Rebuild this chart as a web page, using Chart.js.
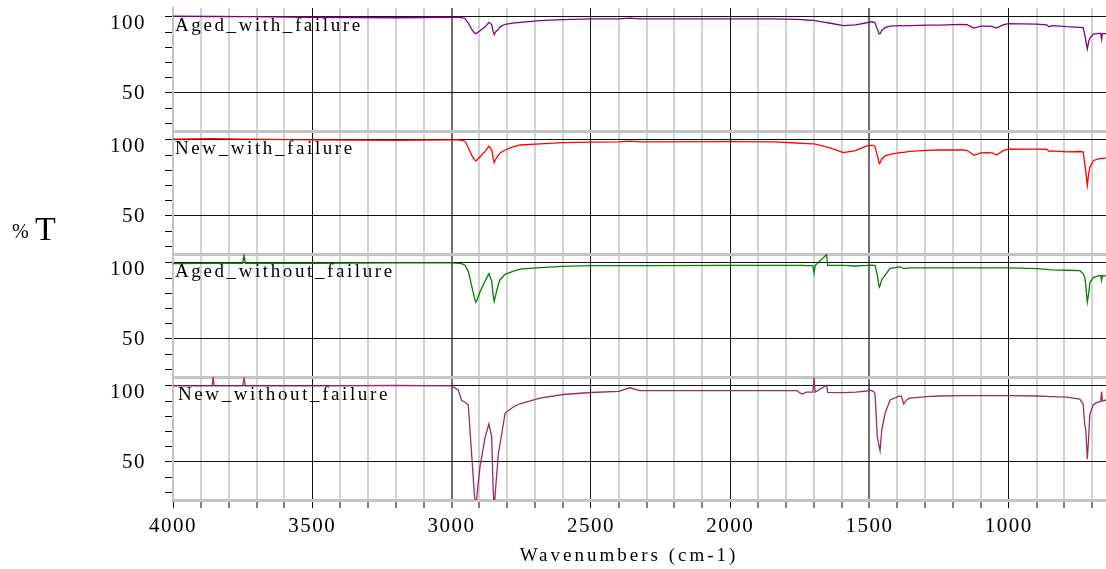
<!DOCTYPE html>
<html>
<head>
<meta charset="utf-8">
<script src="https://cdn.jsdelivr.net/npm/chart.js@4.4.1/dist/chart.umd.min.js"></script>
<style>
  html, body { margin: 0; padding: 0; background: #fff; }
  canvas { display: block; }
</style>
</head>
<body>
<canvas id="ftir" width="1106" height="569"></canvas>
<script>
// wavenumbers (cm-1) shared by the four spectra
const wavenumbers = [4000, 3860, 3856, 3852, 3750, 3745, 3740, 3500, 3200, 3000, 2976, 2964, 2952, 2940, 2928,
  2918, 2913, 2908, 2898, 2880, 2866, 2856, 2851, 2847, 2843, 2832, 2826, 2808, 2780, 2754, 2683, 2600, 2500,
  2400, 2360, 2324, 2000, 1845, 1761, 1743, 1726, 1703, 1699, 1695, 1654, 1650, 1594, 1550, 1510, 1498, 1486,
  1480, 1472, 1465, 1462, 1456, 1444, 1426, 1391, 1385, 1377, 1366, 1355, 1295, 1247, 1175, 1150, 1125, 1100,
  1079, 1060, 1044, 1020, 1002, 900, 864, 855, 845, 792, 745, 733, 727, 724, 718, 713, 709, 697, 685, 673,
  670, 667, 664, 651];

// %T
const agedWithFailure = [100.5, 100.3, 100.3, 100.3, 100.2, 100.2, 100.2, 99.8, 99.5, 99.8, 99.8, 99.5, 99, 96, 92,
  89.5, 89, 89.6, 91, 93.5, 96.5, 95, 90.5, 88.4, 90, 92, 93.5, 95.2, 96, 96.5, 97.6, 98.3, 98.7,
  98.8, 99.2, 98.8, 98.8, 98.7, 98.4, 98.2, 98, 97.8, 97.8, 97.6, 96.3, 96.2, 94.3, 94.8, 96.2, 96.7, 96.7,
  96, 92, 88.8, 89, 91, 93, 94, 94.3, 94.3, 94.1, 94.3, 94.3, 94.6, 94.7, 95.1, 94.9, 92.7, 94,
  94, 93.8, 92.7, 94.8, 95.6, 95.3, 94.8, 93.5, 94.3, 93.6, 93.2, 93, 88, 85, 79, 84, 86, 88.7, 89, 89.2,
  89.2, 85.3, 89, 89];
const newWithFailure = [100.6, 100.8, 100.8, 100.8, 100.5, 100.5, 100.5, 100, 99.8, 100, 100, 99.8, 99.2, 95, 90,
  87, 86.2, 87, 89, 92.5, 96, 93.5, 88, 85.1, 87, 90, 91.5, 93.4, 95.5, 96.7, 97.4, 98.2, 98.6,
  98.8, 99.2, 98.8, 98.9, 98.8, 98, 97.8, 97.6, 97.4, 97.4, 97.2, 95.5, 95.3, 91.7, 93, 96.1, 96.5, 96.5,
  95.5, 90, 84.5, 85, 87.5, 89.5, 90.6, 91.7, 91.8, 91.8, 92.2, 92.5, 93.2, 93.4, 93.4, 93.2, 89.9, 91.5,
  91.7, 91.5, 90.1, 93, 93.9, 94, 93.9, 92.4, 92.8, 92.2, 92.4, 92.2, 84, 80, 70.2, 78, 82, 86.2, 87.3, 87.7,
  87.7, 87.7, 87.8, 88];
const agedWithoutFailure = [99.6, 99.8, 99.8, 99.8, 99.8, 105, 99.8, 99.8, 100, 100, 99.8, 99.6, 98.5, 94.5, 85,
  77, 74.1, 76, 81, 88, 93, 88, 79, 74.7, 78, 86, 89, 92.5, 94.5, 96, 97, 97.8, 98.2,
  98.3, 98.3, 98.3, 98.4, 98.4, 98.4, 98.4, 98.3, 98.3, 93.4, 98.3, 105.5, 98.4, 98.4, 98, 98.4, 98.6, 98.4,
  98.4, 92, 84, 85, 89, 92, 96.5, 97.4, 97, 96.3, 96.6, 96.8, 96.8, 96.8, 96.8, 96.8, 96.8, 96.8,
  96.8, 96.8, 96.8, 96.8, 96.8, 96.3, 95.8, 95.6, 95.5, 95.2, 94.9, 93, 90.4, 86, 74.3, 80, 87, 90.4, 91.2, 91.7,
  91.7, 88.5, 91.6, 91.5];
const newWithoutFailure = [100, 100, 105.5, 100, 100, 105, 100, 100, 100.3, 100, 97.4, 90.4, 89.5, 87.5, 55,
  28, 20, 30, 47, 66, 75, 66.7, 32, 20, 30, 55.6, 62, 82, 86, 88.3, 92, 94.4, 95.7,
  96.4, 98.8, 96.9, 96.9, 96.9, 96.9, 94.7, 96, 96, 105.5, 96, 100.5, 95.8, 95.6, 96, 96.7, 97.3, 96.5,
  94.9, 66.6, 60, 57.4, 71, 82, 90.8, 93.4, 93, 88.2, 91, 92, 93, 93.4, 93.6, 93.6, 93.6, 93.6,
  93.6, 93.6, 93.6, 93.6, 93.6, 93.4, 93.2, 93, 93, 92.6, 91.3, 88, 74.1, 72, 51.8, 66.7, 81.4, 87.5, 89, 89.7,
  89.7, 96.3, 90, 90.8];

const panelNames = ['Aged_with_failure', 'New_with_failure', 'Aged_without_failure', 'New_without_failure'];
const xTickValues = [700, 800, 900, 1000, 1100, 1200, 1300, 1400, 1500, 1600, 1700, 1800, 1900, 2000, 2100, 2200,
  2300, 2400, 2500, 2600, 2700, 2800, 2900, 3000, 3100, 3200, 3300, 3400, 3500, 3600, 3700, 3800, 3900, 4000];
const xLabelValues = [1000, 1500, 2000, 2500, 3000, 3500, 4000];
const yTickValues = [25, 30, 40, 50, 60, 70, 80, 90, 100];
const yLabelValues = [50, 100];

const serif = '"Liberation Serif", "Times New Roman", serif';
const series = [agedWithFailure, newWithFailure, agedWithoutFailure, newWithoutFailure];
const colours = ['#800080', '#ff0000', '#008000', '#9c2b65'];

const datasets = series.map((vals, i) => ({
  label: panelNames[i],
  data: wavenumbers.map((w, j) => ({ x: w, y: vals[j] })),
  yAxisID: 'p' + i,
  borderColor: colours[i],
  borderWidth: 1.3,
  pointRadius: 0,
  tension: 0
}));

const scales = {
  x: {
    type: 'linear',
    reverse: true,
    min: 651,
    max: 4000,
    afterBuildTicks: s => { s.ticks = xTickValues.map(v => ({ value: v })); },
    afterFit: s => { s.height = 69; s.paddingLeft = 0; s.paddingRight = 0; },
    ticks: {
      autoSkip: false,
      maxRotation: 0,
      padding: 6,
      color: '#000',
      font: { family: serif, size: 21 },
      callback: v => xLabelValues.includes(v) ? String(v) : ''
    },
    grid: {
      color: c => {
        const v = c.tick.value;
        if (v === 4000) return '#c4c4c4';
        if (v === 3000 || v === 1500) return '#707070';
        if (v % 500 === 0) return '#111';
        return '#d2d2d2';
      },
      lineWidth: c => {
        const v = c.tick.value;
        if (v === 3000 || v === 1500) return 2;
        if (v % 500 === 0) return 1;
        return 2;
      },
      tickColor: '#000',
      tickWidth: 1,
      tickLength: 8
    },
    border: { display: false }
  }
};

// stacked left axes: the last one added is placed on top, so add bottom panel first
[3, 2, 1, 0].forEach(i => {
  scales['p' + i] = {
    type: 'linear',
    position: 'left',
    stack: 'panels',
    stackWeight: 1,
    min: 25,
    max: 105.9,
    afterBuildTicks: s => { s.ticks = yTickValues.map(v => ({ value: v })); },
    afterFit: s => { s.width = 173; s.paddingTop = 0; s.paddingBottom = 0; },
    ticks: {
      autoSkip: false,
      padding: 19,
      color: '#000',
      font: { family: serif, size: 21, lineHeight: '14px' },
      callback: v => v === 100 ? ['', '100'] : (yLabelValues.includes(v) ? String(v) : '')
    },
    grid: {
      color: c => c.tick.value === 25 ? '#c4c4c4' : (yLabelValues.includes(c.tick.value) ? '#111' : 'rgba(0,0,0,0)'),
      lineWidth: c => c.tick.value === 25 ? 3 : 1,
      tickColor: c => c.tick.value === 25 ? 'rgba(0,0,0,0)' : '#000',
      tickLength: 8
    },
    border: { color: '#c4c4c4', width: 2 }
  };
});

const textPlugin = {
  id: 'panelText',
  beforeDraw(chart) {
    chart.ctx.letterSpacing = '1.5px';
  },
  afterDraw(chart) {
    const ctx = chart.ctx;
    ctx.save();
    ctx.fillStyle = '#000';
    ctx.textBaseline = 'alphabetic';
    ctx.textAlign = 'left';
    ctx.font = '19px ' + serif;
    ctx.letterSpacing = '2.6px';
    panelNames.forEach((name, i) => {
      const y = chart.scales['p' + i].getPixelForValue(100);
      ctx.fillText(name, i === 3 ? 178 : 175, y + 14.5);
    });
    ctx.letterSpacing = '3px';
    ctx.textAlign = 'center';
    ctx.fillText('Wavenumbers (cm-1)', 629, 561);
    ctx.letterSpacing = '0px';
    ctx.textAlign = 'left';
    ctx.font = '20px ' + serif;
    ctx.fillText('%', 12, 238);
    ctx.font = '34px ' + serif;
    ctx.fillText('T', 35, 240);
    ctx.restore();
  }
};

new Chart(document.getElementById('ftir'), {
  type: 'line',
  data: { datasets },
  options: {
    responsive: false,
    animation: false,
    devicePixelRatio: 1,
    layout: { padding: { top: 8, right: 0, bottom: 0, left: 0 } },
    plugins: { legend: { display: false }, tooltip: { enabled: false } },
    scales
  },
  plugins: [textPlugin]
});
</script>
</body>
</html>
